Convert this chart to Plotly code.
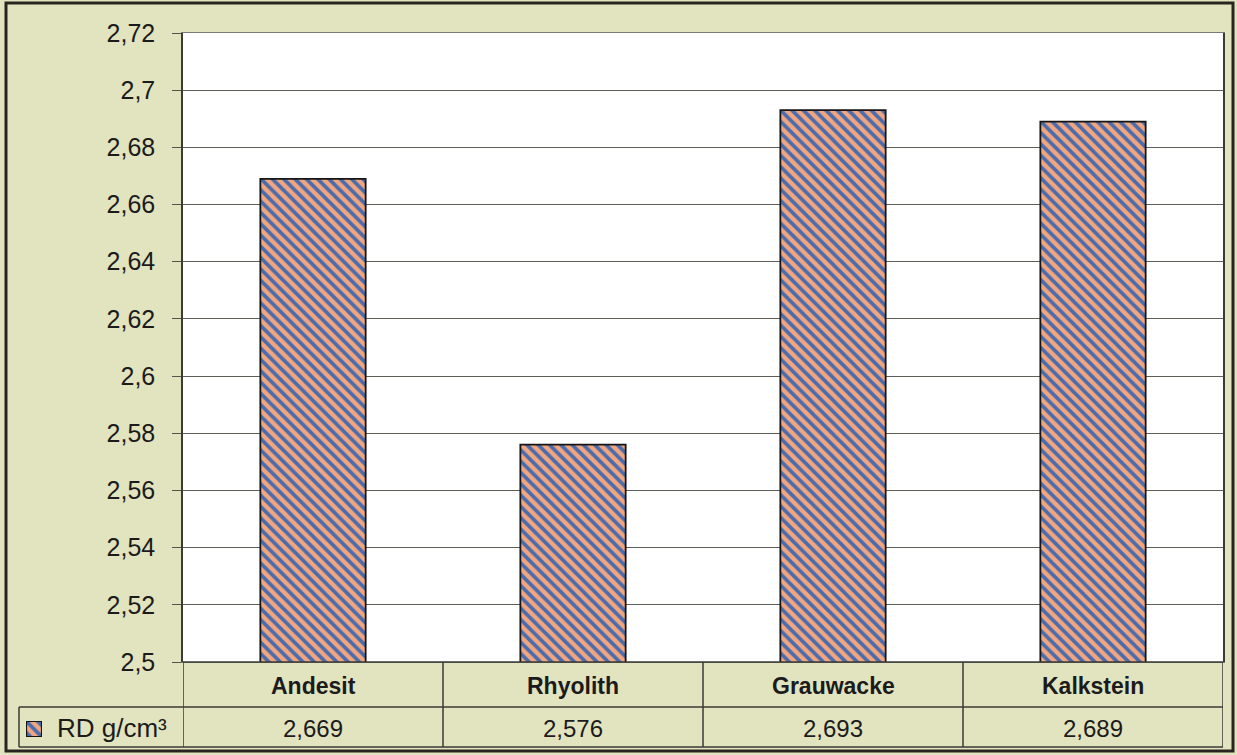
import plotly.graph_objects as go

# Rohdichte der Gesteinsproben
categories = ["Andesit", "Rhyolith", "Grauwacke", "Kalkstein"]
rd_values = [2.669, 2.576, 2.693, 2.689]
series_name = "RD g/cm³"
y_ticks = [2.5, 2.52, 2.54, 2.56, 2.58, 2.6, 2.62, 2.64, 2.66, 2.68, 2.7, 2.72]

W, H = 1237, 755


def fx(px):
    return px / W


def fy(py):
    return (H - py) / H


FONT = "Liberation Sans, Arial, sans-serif"
INK = "#1b1b1b"
LINE = "#3a3a36"
BG = "#e2e3bf"
ORANGE = "#f2a67f"
BLUE = "#4b6cac"

plot_l, plot_r, plot_t, plot_b = 183, 1223, 33, 662
row1, row2, row3 = 662, 707, 747

bar_pattern = dict(shape="\\", fgcolor=BLUE, bgcolor=ORANGE,
                   size=8, solidity=0.47, fillmode="replace")

fig = go.Figure()
fig.add_trace(go.Bar(x=categories, y=rd_values, name=series_name,
                     width=0.405, showlegend=False,
                     marker=dict(color=ORANGE, line=dict(color="#151515", width=1.8),
                                 pattern=bar_pattern)))

# legend key in the table's first column
fig.add_trace(go.Bar(x=[0], y=[1], width=1, xaxis="x2", yaxis="y2",
                     marker=dict(color=ORANGE, line=dict(color="#151515", width=2.2),
                                 pattern=bar_pattern),
                     showlegend=False, hoverinfo="skip"))

n = len(categories)
shapes = []
hline = dict(color=LINE, width=1.5)
shapes.append(dict(type="line", xref="paper", yref="paper",
                   x0=fx(19), x1=fx(plot_r), y0=fy(row2), y1=fy(row2), line=hline))
shapes.append(dict(type="line", xref="paper", yref="paper",
                   x0=fx(19), x1=fx(plot_r), y0=fy(row3), y1=fy(row3), line=hline))
shapes.append(dict(type="line", xref="paper", yref="paper",
                   x0=fx(plot_l), x1=fx(plot_r), y0=fy(row1), y1=fy(row1), line=hline))
for k in range(n + 1):
    shapes.append(dict(type="line", xref="x", yref="paper",
                       x0=k - 0.5, x1=k - 0.5, y0=fy(row3), y1=fy(row1), line=hline))
shapes.append(dict(type="line", xref="paper", yref="paper",
                   x0=fx(19), x1=fx(19), y0=fy(row3), y1=fy(row2), line=hline))
# outer frame
shapes.append(dict(type="rect", xref="paper", yref="paper",
                   x0=fx(6), x1=fx(1233), y0=fy(751), y1=fy(3),
                   line=dict(color="#2a2420", width=3), layer="above"))

annotations = []
for cat, val in zip(categories, rd_values):
    annotations.append(dict(x=cat, xref="x", y=fy((row1 + row2) / 2 + 1), yref="paper",
                            text=f"<b>{cat}</b>", showarrow=False,
                            font=dict(family=FONT, size=23, color=INK),
                            xanchor="center", yanchor="middle"))
    annotations.append(dict(x=cat, xref="x", y=fy((row2 + row3) / 2 + 1), yref="paper",
                            text=f"{val:.3f}".replace(".", ","), showarrow=False,
                            font=dict(family=FONT, size=24, color=INK),
                            xanchor="center", yanchor="middle"))
annotations.append(dict(x=fx(55), xref="paper", y=fy((row2 + row3) / 2 + 1), yref="paper",
                        text=series_name, showarrow=False,
                        font=dict(family=FONT, size=26, color=INK),
                        xanchor="left", yanchor="middle"))

fig.update_layout(
    width=W, height=H,
    margin=dict(l=0, r=0, t=0, b=0, pad=0, autoexpand=False),
    paper_bgcolor=BG,
    plot_bgcolor="white",
    separators=",.",
    bargap=0.6,
    shapes=shapes,
    annotations=annotations,
    showlegend=False,
    font=dict(family=FONT, size=20, color=INK),
    xaxis=dict(domain=[fx(plot_l), fx(plot_r)], range=[-0.5, n - 0.5],
               showticklabels=False, showgrid=False, ticks="", automargin=False,
               showline=True, linecolor="#7a7a74", mirror=True, linewidth=1),
    yaxis=dict(domain=[fy(plot_b), fy(plot_t)], range=[2.5, 2.72], tickvals=y_ticks,
               ticks="outside", ticklen=9, tickcolor="#555550", tickwidth=1,
               ticklabelstandoff=12, automargin=False,
               showgrid=True, gridcolor="#5e5e58", gridwidth=1,
               showline=True, linecolor="#3a3a36", linewidth=1.5, mirror=True,
               tickfont=dict(family=FONT, size=25, color=INK), zeroline=False),
    xaxis2=dict(domain=[fx(26), fx(42)], range=[-0.5, 0.5], anchor="y2",
                visible=False, fixedrange=True, automargin=False),
    yaxis2=dict(domain=[fy(737), fy(721)], range=[0, 1], anchor="x2",
                visible=False, fixedrange=True, automargin=False),
)

fig.write_html("out.html")
